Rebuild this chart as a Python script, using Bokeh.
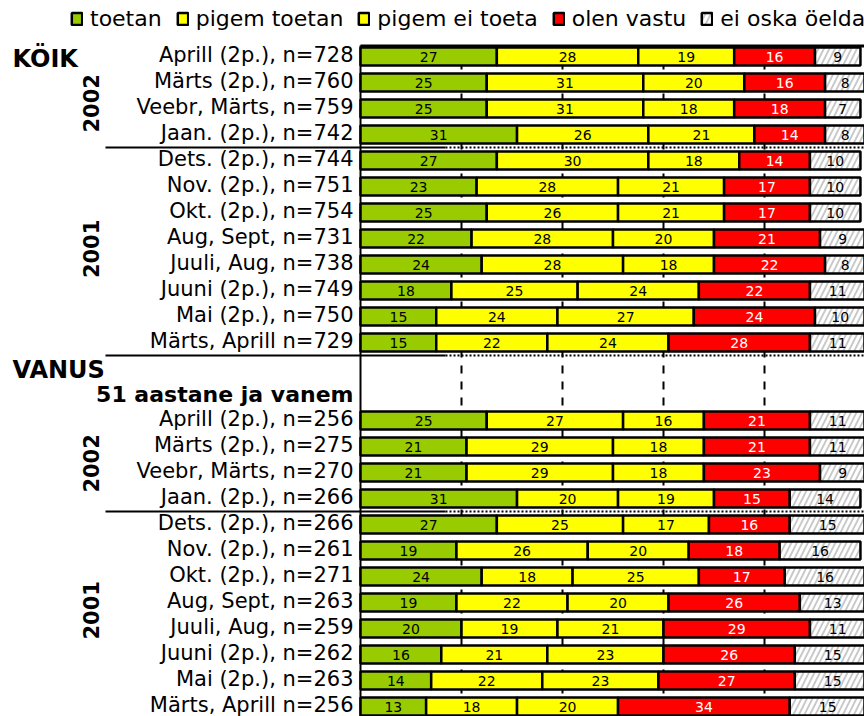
import numpy as np
from bokeh.plotting import figure
from bokeh.models import Range1d, ColumnDataSource, Legend, LegendItem
from bokeh.core.properties import value
from bokeh.embed import file_html
from bokeh.resources import INLINE

# ---------------- data ----------------
series = ["toetan", "pigem toetan", "pigem ei toeta", "olen vastu", "ei oska öelda"]
colors = ["#99CC00", "#FFFF00", "#FFFF00", "#FF0000", "#C8C8C8"]
text_colors = ["black", "black", "black", "white", "black"]

koik_labels = ["Aprill (2p.), n=728", "Märts (2p.), n=760", "Veebr, Märts, n=759",
               "Jaan. (2p.), n=742", "Dets. (2p.), n=744", "Nov. (2p.), n=751",
               "Okt. (2p.), n=754", "Aug, Sept, n=731", "Juuli, Aug, n=738",
               "Juuni (2p.), n=749", "Mai (2p.), n=750", "Märts, Aprill n=729"]
koik_toetan = [27, 25, 25, 31, 27, 23, 25, 22, 24, 18, 15, 15]
koik_pigem_toetan = [28, 31, 31, 26, 30, 28, 26, 28, 28, 25, 24, 22]
koik_pigem_ei = [19, 20, 18, 21, 18, 21, 21, 20, 18, 24, 27, 24]
koik_vastu = [16, 16, 18, 14, 14, 17, 17, 21, 22, 22, 24, 28]
koik_ei_oska = [9, 8, 7, 8, 10, 10, 10, 9, 8, 11, 10, 11]

vanus_labels = ["Aprill (2p.), n=256", "Märts (2p.), n=275", "Veebr, Märts, n=270",
                "Jaan. (2p.), n=266", "Dets. (2p.), n=266", "Nov. (2p.), n=261",
                "Okt. (2p.), n=271", "Aug, Sept, n=263", "Juuli, Aug, n=259",
                "Juuni (2p.), n=262", "Mai (2p.), n=263", "Märts, Aprill n=256"]
vanus_toetan = [25, 21, 21, 31, 27, 19, 24, 19, 20, 16, 14, 13]
vanus_pigem_toetan = [27, 29, 29, 20, 25, 26, 18, 22, 19, 21, 22, 18]
vanus_pigem_ei = [16, 18, 18, 19, 17, 20, 25, 20, 21, 23, 23, 20]
vanus_vastu = [21, 21, 23, 15, 16, 18, 17, 26, 29, 26, 27, 34]
vanus_ei_oska = [11, 11, 9, 14, 15, 16, 16, 13, 11, 15, 15, 15]

grid_ticks = [20, 40, 60, 80]
year_labels = ["2002", "2001", "2002", "2001"]

# ---------------- layout helpers ----------------
W, H = 864, 716
PX_PER_PCT = 5.05
ROW_PX = 26.0
def sx(px):  # picture x -> data x
    return (px - 360.0) / PX_PER_PCT
def sy(py):  # picture y -> row value
    return (py - 56.0) / ROW_PX

X0, X1 = sx(0), sx(W)
Y_TOP, Y_BOTTOM = sy(0), sy(H)

labels = koik_labels + vanus_labels
rows = list(range(12)) + list(range(14, 26))
vals = np.array([koik_toetan + vanus_toetan,
                 koik_pigem_toetan + vanus_pigem_toetan,
                 koik_pigem_ei + vanus_pigem_ei,
                 koik_vastu + vanus_vastu,
                 koik_ei_oska + vanus_ei_oska], dtype=float)

p = figure(width=W, height=H, x_range=Range1d(X0, X1), y_range=Range1d(Y_BOTTOM, Y_TOP),
           output_backend="svg", toolbar_location=None, x_axis_location=None,
           y_axis_location=None, min_border=0, outline_line_color=None)
p.grid.visible = False

# dashed grid lines (visible in gaps between bars)
p.segment(x0=grid_ticks, x1=grid_ticks, y0=[sy(45)] * 4, y1=[Y_BOTTOM] * 4,
          line_color="black", line_width=2, line_dash="8 8")

# frame lines
p.segment(x0=[0], x1=[X1], y0=[sy(45.5)], y1=[sy(45.5)], line_color="black", line_width=3)
p.segment(x0=[0], x1=[0], y0=[sy(45)], y1=[Y_BOTTOM], line_color="black", line_width=2)

# separators
sep_y = [3.5, 11.5, 17.5]
p.segment(x0=[sx(105)] * 3, x1=[sx(445)] * 3, y0=sep_y, y1=sep_y, line_color="black", line_width=2)
p.segment(x0=[sx(445)] * 3, x1=[X1] * 3, y0=sep_y, y1=sep_y, line_color="black", line_width=2,
          line_dash="2 2")

# stacked bars
left = np.zeros(len(rows))
renderers = []
for i, name in enumerate(series):
    right = left + vals[i]
    src = ColumnDataSource(dict(y=rows, left=left.copy(), right=right.copy(),
                                mid=(left + right) / 2, txt=[str(int(v)) for v in vals[i]]))
    kw = {}
    if i == 4:
        kw = dict(hatch_pattern="/", hatch_color="white", hatch_weight=3, hatch_scale=11)
    r = p.hbar(y="y", left="left", right="right", height=0.7, source=src,
               fill_color=colors[i], line_color="black", line_width=2.5, **kw)
    renderers.append(r)
    p.text(x="mid", y="y", text="txt", source=src, text_align="center", text_baseline="middle",
           text_font=value("DejaVu Sans"), text_font_size="14px", text_color=text_colors[i])
    left = right

# row labels
p.text(x=[0] * len(rows), y=rows, text=labels, x_offset=-7, y_offset=-2, text_align="right",
       text_baseline="middle", text_font=value("DejaVu Sans"), text_font_size="21px",
       text_color="black")

# headers
p.text(x=[sx(12), sx(12)], y=[sy(58), sy(369)], text=["KÖIK", "VANUS"], text_align="left",
       text_baseline="middle", text_font=value("DejaVu Sans"), text_font_style="bold",
       text_font_size="24px", text_color="black")
p.text(x=[0], y=[13], text=["51 aastane ja vanem"], x_offset=-7, text_align="right",
       text_baseline="middle", text_font=value("DejaVu Sans"), text_font_style="bold",
       text_font_size="22px", text_color="black")

# year labels (vertical)
year_y = [1.8, 7.4, 15.65, 21.3]
p.text(x=[sx(90)] * 4, y=year_y, text=year_labels, angle=np.pi / 2, text_align="center",
       text_baseline="middle", text_font=value("DejaVu Sans"), text_font_style="bold",
       text_font_size="21px", text_color="black")

# legend
legend = Legend(items=[LegendItem(label=n, renderers=[r]) for n, r in zip(series, renderers)],
                orientation="horizontal", location=(70, 685),
                label_text_font="DejaVu Sans", label_text_font_size="22px",
                label_text_color="black",
                glyph_width=13, glyph_height=15, label_standoff=7, spacing=14,
                padding=0, margin=0, border_line_color=None, background_fill_alpha=0)
p.add_layout(legend)

open("out.html", "w").write(file_html(p, INLINE))
